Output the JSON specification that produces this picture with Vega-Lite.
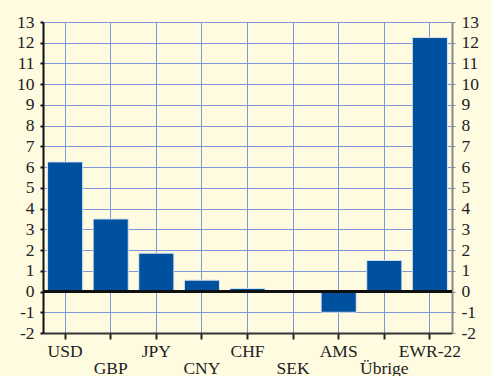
{
  "$schema": "https://vega.github.io/schema/vega-lite/v6.json",
  "autosize": "none",
  "width": 409,
  "height": 311,
  "padding": {"left": 43, "top": 22, "right": 40, "bottom": 43},
  "background": "#FEFBE1",
  "config": {
    "view": {"stroke": null},
    "axis": {"labelFont": "Liberation Serif", "labelFontSize": 17.5, "labelColor": "#222222", "titleFont": "Liberation Serif"}
  },
  "data": {
    "values": [
      {"k": "USD", "v": 6.25},
      {"k": "GBP", "v": 3.5},
      {"k": "JPY", "v": 1.85},
      {"k": "CNY", "v": 0.55},
      {"k": "CHF", "v": 0.15},
      {"k": "SEK", "v": 0.05},
      {"k": "AMS", "v": -1.0},
      {"k": "Übrige", "v": 1.5},
      {"k": "EWR-22", "v": 12.25}
    ]
  },
  "resolve": {"axis": {"y": "independent"}},
  "layer": [
    {
      "mark": {"type": "bar", "color": "#0050A0", "stroke": "#d8e4f0", "strokeWidth": 1},
      "encoding": {
        "x": {
          "field": "k", "type": "nominal", "sort": null, "title": null,
          "scale": {"paddingInner": 0.23, "paddingOuter": 0.1},
          "axis": {
            "labelAngle": 0, "grid": true, "gridColor": "#7F96D8", "gridWidth": 1, "bandPosition": 0.5,
            "domainColor": "#333333", "domainWidth": 2, "tickColor": "#222222", "tickSize": 6, "tickWidth": 2,
            "labelPadding": {"condition": {"test": "indexof(['GBP','CNY','SEK','Übrige'], datum.value) >= 0", "value": 20}, "value": 3}
          }
        },
        "y": {
          "field": "v", "type": "quantitative", "title": null,
          "scale": {"domain": [-2, 13], "nice": false, "zero": false},
          "axis": {
            "values": [-2,-1,0,1,2,3,4,5,6,7,8,9,10,11,12,13],
            "labelExpr": "toString(datum.value)",
            "grid": true, "gridColor": "#7F96D8", "gridWidth": 1,
            "domainColor": "#111111", "domainWidth": 2, "tickColor": "#111111", "tickSize": 3, "tickWidth": 2,
            "labelPadding": 6
          }
        }
      }
    },
    {
      "mark": {"type": "rule", "color": "#111111", "strokeWidth": 2},
      "encoding": {
        "y": {
          "datum": 0, "type": "quantitative",
          "axis": {
            "orient": "right", "title": null,
            "values": [-2,-1,0,1,2,3,4,5,6,7,8,9,10,11,12,13],
            "labelExpr": "toString(datum.value)",
            "grid": false,
            "domainColor": "#8a8a8a", "domainWidth": 2, "tickColor": "#8a8a8a", "tickSize": 3, "tickWidth": 1,
            "labelPadding": 6
          }
        }
      }
    }
  ]
}
